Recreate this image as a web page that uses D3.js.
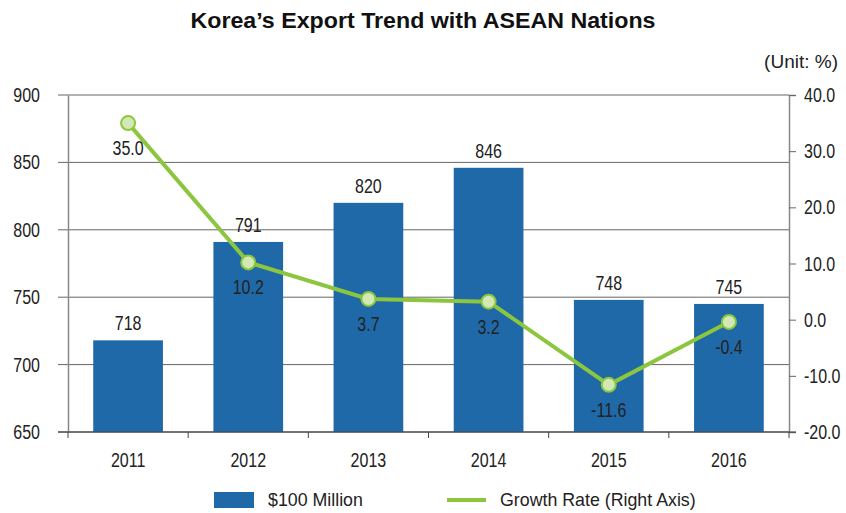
<!DOCTYPE html>
<html>
<head>
<meta charset="utf-8">
<script src="https://d3js.org/d3.v7.min.js"></script>
<style>
  body { margin: 0; background: #fff; }
  text { fill: #222; font-family: "Liberation Sans", Arial, sans-serif; }
</style>
</head>
<body>
<div id="chart"></div>
<script>
  var years = ["2011", "2012", "2013", "2014", "2015", "2016"];
  var exports = [718, 791, 820, 846, 748, 745];
  var growth = [35.0, 10.2, 3.7, 3.2, -11.6, -0.4];
  var leftTicks = [650, 700, 750, 800, 850, 900];
  var rightTicks = [-20, -10, 0, 10, 20, 30, 40];

  var W = 846, H = 513;
  var pLeft = 68, pRight = 789, pTop = 95, pBottom = 432;
  var squeeze = 0.8; // the reference uses a narrow face
  var fmt1 = function(d) { return d.toFixed(1); };

  var svg = d3.select("#chart").append("svg")
    .attr("width", W).attr("height", H);

  var x = d3.scaleBand().domain(years).range([pLeft, pRight])
    .paddingInner(0.42).paddingOuter(0.21);
  var yL = d3.scaleLinear().domain([650, 900]).range([pBottom, pTop]);
  var yR = d3.scaleLinear().domain([-20, 40]).range([pBottom, pTop]);

  // narrow text helper
  function narrowText(g, px, py, str, anchor) {
    return g.append("text")
      .attr("transform", "translate(" + px + "," + py + ") scale(" + squeeze + ",1)")
      .attr("text-anchor", anchor || "middle")
      .style("font-size", "20px")
      .text(str);
  }

  // title
  svg.append("text")
    .attr("x", W / 2).attr("y", 28)
    .attr("text-anchor", "middle")
    .attr("textLength", 465).attr("lengthAdjust", "spacingAndGlyphs")
    .style("font-size", "22px").style("font-weight", "bold")
    .style("fill", "#111")
    .text("Korea\u2019s Export Trend with ASEAN Nations");

  svg.append("text")
    .attr("x", 838).attr("y", 68)
    .attr("text-anchor", "end")
    .style("font-size", "19px")
    .text("(Unit: %)");

  // gridlines
  svg.append("g").selectAll("line").data(leftTicks).join("line")
    .attr("x1", pLeft - 10).attr("x2", pRight)
    .attr("y1", function(d) { return yL(d); })
    .attr("y2", function(d) { return yL(d); })
    .attr("stroke", function(d) { return d == 650 ? "#444" : "#666"; })
    .attr("stroke-width", 1);

  // left axis
  var gL = svg.append("g").attr("transform", "translate(" + pLeft + ",0)")
    .call(d3.axisLeft(yL).tickValues(leftTicks).tickSize(0).tickFormat(""));
  gL.select(".domain").attr("stroke", "#888").attr("stroke-width", 1.5);
  var gLt = svg.append("g");
  leftTicks.forEach(function(d) {
    narrowText(gLt, 40, yL(d) + 7, d, "end");
  });

  // right axis
  var gR = svg.append("g").attr("transform", "translate(" + pRight + ",0)")
    .call(d3.axisRight(yR).tickValues(rightTicks).tickSize(7).tickFormat(""));
  gR.select(".domain").attr("stroke", "#888").attr("stroke-width", 1.5);
  gR.selectAll(".tick line").attr("stroke", "#666");
  var gRt = svg.append("g");
  rightTicks.forEach(function(d) {
    narrowText(gRt, 804, yR(d) + 7, fmt1(d), "start");
  });

  // bars
  svg.append("g").selectAll("rect").data(years).join("rect")
    .attr("x", function(d) { return x(d); })
    .attr("y", function(d, i) { return yL(exports[i]); })
    .attr("width", x.bandwidth())
    .attr("height", function(d, i) { return pBottom - yL(exports[i]); })
    .attr("fill", "#1f69a8");

  var gBl = svg.append("g");
  years.forEach(function(d, i) {
    narrowText(gBl, x(d) + x.bandwidth() / 2, yL(exports[i]) - 10, exports[i]);
  });

  // bottom axis
  svg.append("line")
    .attr("x1", pLeft - 10).attr("x2", pRight + 7)
    .attr("y1", pBottom).attr("y2", pBottom)
    .attr("stroke", "#444");
  var bounds = d3.range(years.length + 1).map(function(i) { return pLeft + i * x.step(); });
  svg.append("g").selectAll("line").data(bounds).join("line")
    .attr("x1", function(d) { return d; }).attr("x2", function(d) { return d; })
    .attr("y1", pBottom).attr("y2", pBottom + 6)
    .attr("stroke", "#444");
  var gX = svg.append("g");
  years.forEach(function(d) {
    narrowText(gX, x(d) + x.bandwidth() / 2, 467, d);
  });

  // growth line
  var cx = function(d, i) { return x(years[i]) + x.bandwidth() / 2; };
  svg.append("path").datum(growth)
    .attr("fill", "none")
    .attr("stroke", "#8cc63e")
    .attr("stroke-width", 4)
    .attr("d", d3.line().x(cx).y(function(d) { return yR(d); }));

  svg.append("g").selectAll("circle").data(growth).join("circle")
    .attr("cx", cx)
    .attr("cy", function(d) { return yR(d); })
    .attr("r", 7)
    .attr("fill", "#d3e9b5")
    .attr("stroke", "#8cc63e")
    .attr("stroke-width", 2);

  var gGl = svg.append("g");
  growth.forEach(function(d, i) {
    narrowText(gGl, cx(d, i), yR(d) + 32, fmt1(d));
  });

  // legend
  svg.append("rect").attr("x", 214).attr("y", 492).attr("width", 40).attr("height", 16)
    .attr("fill", "#1f69a8");
  svg.append("text")
    .attr("x", 268).attr("y", 506)
    .style("font-size", "17.8px")
    .text("$100 Million");
  svg.append("line").attr("x1", 447).attr("x2", 486).attr("y1", 500).attr("y2", 500)
    .attr("stroke", "#8cc63e").attr("stroke-width", 4);
  svg.append("text")
    .attr("x", 500).attr("y", 506)
    .style("font-size", "17.8px")
    .text("Growth Rate (Right Axis)");
</script>
</body>
</html>
